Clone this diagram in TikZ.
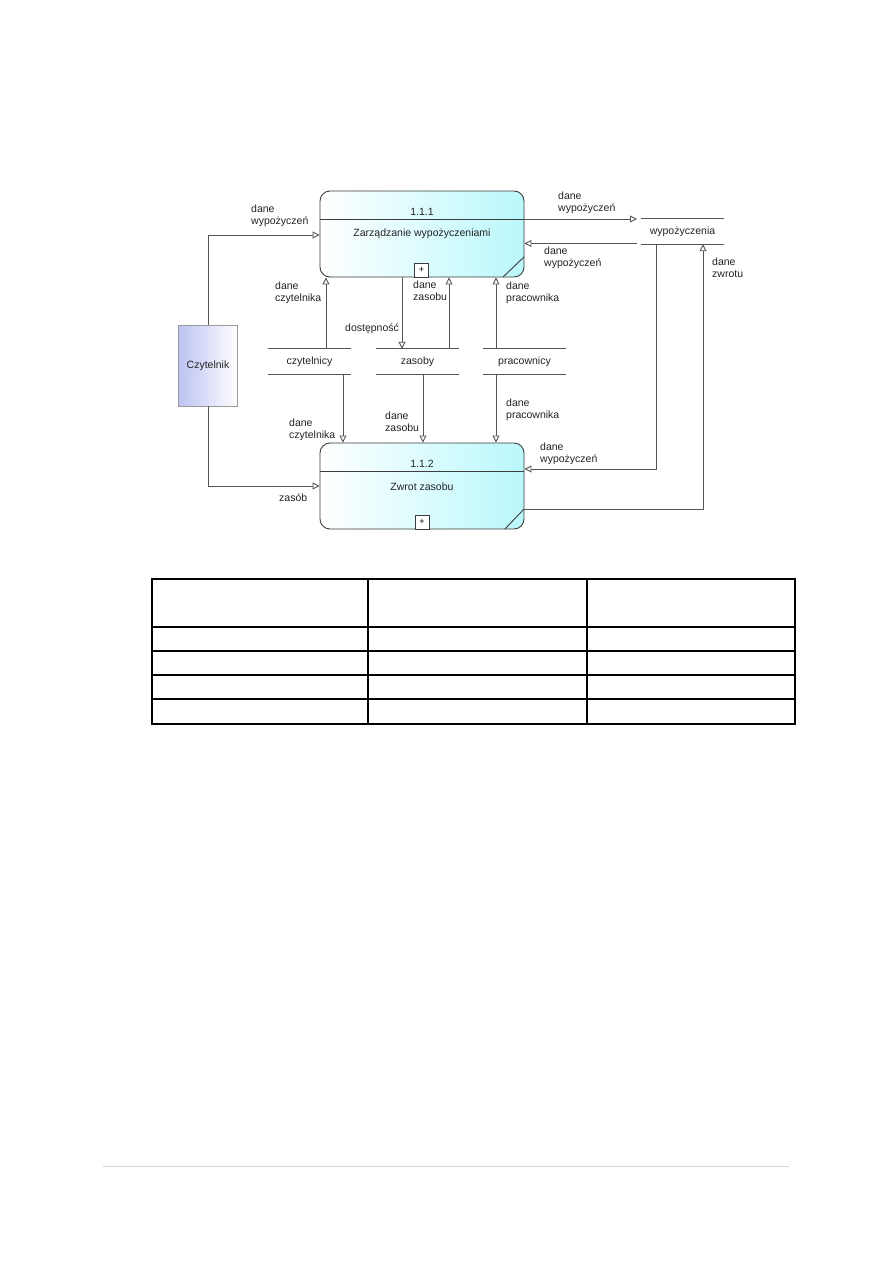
\documentclass[tikz,border=0pt]{standalone}
\usepackage{fontspec}
\setmainfont{Liberation Sans}
\usetikzlibrary{arrows.meta,calc}
\definecolor{cyanR}{RGB}{186,248,252}
\definecolor{blueL}{RGB}{188,194,242}
\definecolor{lineC}{RGB}{85,85,85}
\definecolor{boxC}{RGB}{60,60,60}
\definecolor{txtC}{RGB}{35,35,35}
\definecolor{footC}{RGB}{215,215,215}
\begin{document}
\begin{tikzpicture}[x=1pt,y=-1pt,
  lbl/.style={font=\fontsize{10.5}{12}\selectfont, align=left, inner sep=0pt, anchor=west, text=txtC},
  ctext/.style={font=\fontsize{10.5}{12}\selectfont, inner sep=0pt, text=txtC},
  proc/.style={draw=boxC, line width=0.9pt, rounded corners=10pt, left color=white, right color=cyanR,
    minimum width=204pt, minimum height=86pt, inner sep=0pt},
  ext/.style={draw=gray!80, line width=0.8pt, left color=blueL, right color=white,
    minimum width=59pt, minimum height=81pt, inner sep=0pt, font=\fontsize{10.5}{12}\selectfont, text=txtC},
  store/.style={minimum width=83pt, minimum height=25pt, inner sep=0pt, font=\fontsize{10.5}{12}\selectfont, text=txtC},
  sline/.style={draw=lineC, line width=1pt},
  flow/.style={draw=lineC, line width=0.9pt, -{Triangle[open,length=7pt,width=7pt]}},
  plusbox/.style={draw=boxC, fill=white, line width=0.8pt, minimum width=14pt, minimum height=14pt, inner sep=0pt, font=\fontsize{9}{10}\selectfont},
]
\useasboundingbox (0,0) rectangle (893,1263);

% processes
\node[proc] (p1) at (422,234) {};
\node[proc] (p2) at (422,486) {};
\draw[boxC, line width=0.9pt] (p1.west |- 0,219) -- (p1.east |- 0,219);
\draw[boxC, line width=0.9pt] (p2.west |- 0,471) -- (p2.east |- 0,471);
\node[ctext] (n1) at (422,212) {1.1.1};
\node[ctext] (t1) at (422,234) {Zarządzanie wypożyczeniami};
\node[ctext] (n2) at (422,464) {1.1.2};
\node[ctext] (t2) at (422,487) {Zwrot zasobu};
\node[plusbox, anchor=south] (pl1) at (p1.south -| 421.5,0) {+};
\node[plusbox, anchor=south] (pl2) at (p2.south -| 422,0) {+};
\draw[boxC, line width=0.9pt] (503,277) -- (524,257);
\draw[boxC, line width=0.9pt] (505,529) -- (524,509);

% external entity
\node[ext] (cz) at (208,365.5) {Czytelnik};

% stores
\node[store] (sc) at (309.5,361.5) {czytelnicy};
\node[store] (sz) at (417.5,361.5) {zasoby};
\node[store] (sp) at (524.5,361.5) {pracownicy};
\node[store] (sw) at (682.5,231.5) {wypożyczenia};
\foreach \s in {sc,sz,sp,sw}{
  \draw[sline] (\s.north west) -- (\s.north east);
  \draw[sline] (\s.south west) -- (\s.south east);
}

% x / y helper coordinates
\coordinate (xa) at (326,0);
\coordinate (xb) at (402,0);
\coordinate (xc) at (449,0);
\coordinate (xd) at (496,0);
\coordinate (xe) at (343,0);
\coordinate (xf) at (423,0);
\coordinate (xw1) at (656,0);
\coordinate (xw2) at (703,0);
\coordinate (ya) at (0,235);
\coordinate (yb) at (0,219);
\coordinate (yc) at (0,243.5);
\coordinate (yw) at (0,469);
\coordinate (yz) at (0,509);
\coordinate (wl1) at (637,219);
\coordinate (wl2) at (637,243.5);

% flows
\draw[flow] (cz.north) |- (p1.west |- ya);
\draw[flow] (cz.south) |- (p2.west);
\draw[flow] (sc.north -| xa) -- (p1.south -| xa);
\draw[flow] (p1.south -| xb) -- (sz.north -| xb);
\draw[flow] (sz.north -| xc) -- (p1.south -| xc);
\draw[flow] (sp.north -| xd) -- (p1.south -| xd);
\draw[flow] (sc.south -| xe) -- (p2.north -| xe);
\draw[flow] (sz.south -| xf) -- (p2.north -| xf);
\draw[flow] (sp.south -| xd) -- (p2.north -| xd);
\draw[flow] (p1.east |- yb) -- (wl1);
\draw[flow] (wl2) -- (p1.east |- yc);
\draw[flow] (sw.south -| xw1) |- (p2.east |- yw);
\draw[flow] (p2.east |- yz) -| (sw.south -| xw2);

% labels
\node[lbl] (l1) at (251,216) {dane\\wypożyczeń};
\node[lbl] (l2) at (558,203) {dane\\wypożyczeń};
\node[lbl] (l3) at (544,257.5) {dane\\wypożyczeń};
\node[lbl] (l4) at (712,268) {dane\\zwrotu};
\node[lbl] (l5) at (275,292.5) {dane\\czytelnika};
\node[lbl] (l6) at (413,291) {dane\\zasobu};
\node[lbl] (l7) at (506,293) {dane\\pracownika};
\node[lbl] (l8) at (345,329) {dostępność};
\node[lbl] (l9) at (289,430) {dane\\czytelnika};
\node[lbl] (l10) at (385,422) {dane\\zasobu};
\node[lbl] (l11) at (506,410) {dane\\pracownika};
\node[lbl] (l12) at (540,453.5) {dane\\wypożyczeń};
\node[lbl] (l13) at (279,498) {zasób};

% table
\draw[black, line width=1.3pt] (152,579) rectangle (795,724);
\foreach \yy in {627,651,675,699} \draw[black, line width=1.3pt] (152,\yy) -- (795,\yy);
\foreach \xx in {368,587} \draw[black, line width=1.3pt] (\xx,579) -- (\xx,724);

% footer line
\draw[footC, line width=1pt] (103,1166) -- (789,1166);
\end{tikzpicture}
\end{document}
